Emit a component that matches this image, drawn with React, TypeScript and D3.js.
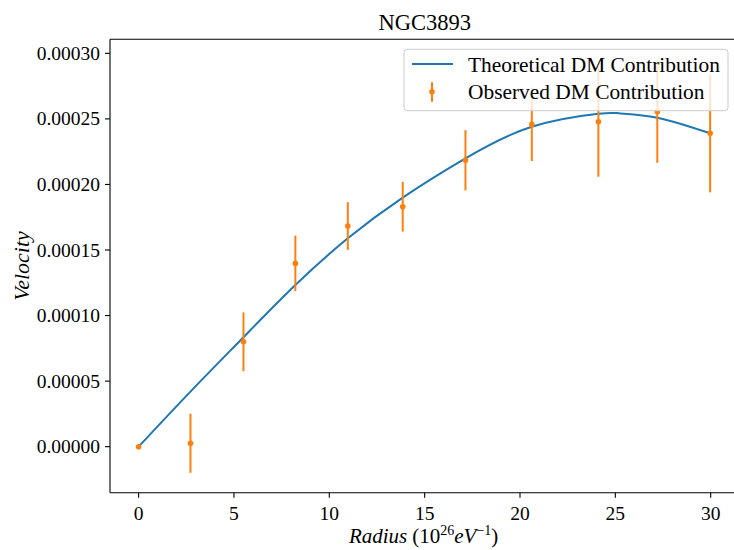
import React from "react";
import * as d3 from "d3";

const radius = [0, 2.72, 5.5, 8.22, 10.97, 13.85, 17.14, 20.62, 24.11, 27.2, 29.97];
const observed = [0, 2.6e-6, 8.0e-5, 1.398e-4, 1.683e-4, 1.83e-4, 2.184e-4, 2.458e-4, 2.478e-4, 2.555e-4, 2.39e-4];
const errors = [0, 2.25e-5, 2.24e-5, 2.12e-5, 1.82e-5, 1.9e-5, 2.3e-5, 2.8e-5, 4.19e-5, 3.9e-5, 4.5e-5];

const curveRadius = [0, 2.72, 5.5, 8.22, 10.97, 13.85, 17.14, 20.62, 24.11, 25.25, 27.2, 29.97];
const curveVelocity = [0, 4.2e-5, 8.35e-5, 1.233e-4, 1.589e-4, 1.9e-4, 2.199e-4, 2.44e-4, 2.539e-4, 2.542e-4, 2.509e-4, 2.39e-4];

const xTicks = [0, 5, 10, 15, 20, 25, 30];
const yTicks = [0, 0.00005, 0.0001, 0.00015, 0.0002, 0.00025, 0.0003];

const W = 734;
const H = 550;
const FONT = "'Liberation Serif', 'Times New Roman', serif";
const BLUE = "#1f77b4";
const ORANGE = "#ff7f0e";

export default function App() {
  const left = 110, right = 739.3, top = 39.3, bottom = 492.7;
  const x = d3.scaleLinear().domain([-1.5, 31.5]).range([left, right]);
  const y = d3.scaleLinear().domain([-3.51e-5, 3.107e-4]).range([bottom, top]);

  const line = d3
    .line<number>()
    .x((_, i) => x(curveRadius[i]))
    .y((d) => y(d))
    .curve(d3.curveNatural);

  const legend = { x0: 404, y0: 49.3, x1: 728, y1: 110.7 };

  return (
    <div style={{ position: "fixed", left: 0, top: 0, width: W, height: H, background: "#fff" }}>
      <svg width={W} height={H} style={{ display: "block" }} fontFamily={FONT}>
        <rect x={0} y={0} width={W} height={H} fill="#fff" />
        {/* title */}
        <text x={(left + right) / 2} y={29.5} textAnchor="middle" fontSize={22.5} fill="#000">
          NGC3893
        </text>

        {/* theoretical curve */}
        <path d={line(curveVelocity) || ""} fill="none" stroke={BLUE} strokeWidth={2} />

        {/* observed error bars */}
        {radius.map((r, i) => (
          <g key={i}>
            {errors[i] > 0 && (
              <line
                x1={x(r)}
                x2={x(r)}
                y1={y(observed[i] - errors[i])}
                y2={y(observed[i] + errors[i])}
                stroke={ORANGE}
                strokeWidth={2}
              />
            )}
            <circle cx={x(r)} cy={y(observed[i])} r={2.8} fill={ORANGE} />
          </g>
        ))}

        {/* spines */}
        <line x1={left} x2={left} y1={top} y2={bottom} stroke="#000" strokeWidth={1.1} />
        <line x1={left} x2={right} y1={bottom} y2={bottom} stroke="#000" strokeWidth={1.1} />
        <line x1={left} x2={right} y1={top} y2={top} stroke="#000" strokeWidth={1.1} />

        {/* x ticks */}
        {xTicks.map((t) => (
          <g key={"x" + t}>
            <line x1={x(t)} x2={x(t)} y1={bottom} y2={bottom + 5} stroke="#000" strokeWidth={1.1} />
            <text x={x(t)} y={bottom + 27} textAnchor="middle" fontSize={19.5} fill="#000">
              {String(t)}
            </text>
          </g>
        ))}
        {/* y ticks */}
        {yTicks.map((t) => (
          <g key={"y" + t}>
            <line x1={left - 5} x2={left} y1={y(t)} y2={y(t)} stroke="#000" strokeWidth={1.1} />
            <text x={left - 10} y={y(t) + 6.5} textAnchor="end" fontSize={19.5} fill="#000">
              {t.toFixed(5)}
            </text>
          </g>
        ))}

        {/* axis labels */}
        <text x={(left + right) / 2 - 1} y={543} textAnchor="middle" fontSize={21} fill="#000">
          <tspan fontStyle="italic">Radius</tspan>
          <tspan dx={5}>(10</tspan>
          <tspan fontSize={14} dy={-8}>26</tspan>
          <tspan fontStyle="italic" dy={8}>eV</tspan>
          <tspan fontSize={14} dy={-8}>−1</tspan>
          <tspan dy={8}>)</tspan>
        </text>
        <text
          transform={`translate(28.5, ${(top + bottom) / 2}) rotate(-90)`}
          textAnchor="middle"
          fontSize={22}
          fontStyle="italic"
          fill="#000"
        >
          Velocity
        </text>

        {/* legend */}
        <rect
          x={legend.x0}
          y={legend.y0}
          width={legend.x1 - legend.x0}
          height={legend.y1 - legend.y0}
          rx={3}
          fill="#fff"
          fillOpacity={0.8}
          stroke="#cccccc"
          strokeWidth={1}
        />
        <line x1={412} x2={453} y1={64} y2={64} stroke={BLUE} strokeWidth={2} />
        <text x={468} y={71.7} fontSize={21.4} fill="#000">
          Theoretical DM Contribution
        </text>
        <line x1={432} x2={432} y1={82.3} y2={101.7} stroke={ORANGE} strokeWidth={2} />
        <circle cx={432} cy={91.7} r={2.8} fill={ORANGE} />
        <text x={468} y={99.3} fontSize={21.4} fill="#000">
          Observed DM Contribution
        </text>
      </svg>
    </div>
  );
}
